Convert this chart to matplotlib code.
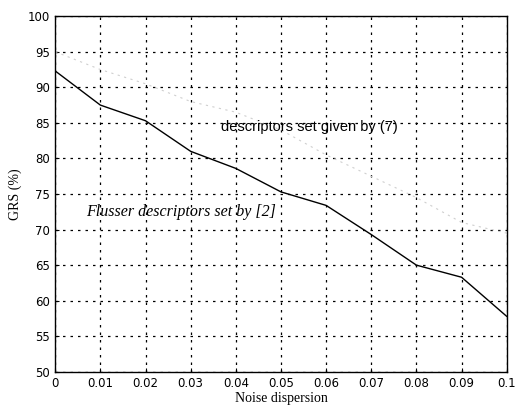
import matplotlib
matplotlib.use("Agg")
import matplotlib.pyplot as plt
import numpy as np

noise = [0, 0.01, 0.02, 0.03, 0.04, 0.05, 0.06, 0.07, 0.08, 0.09, 0.1]
flusser = [92.3, 87.5, 85.3, 81.0, 78.6, 75.3, 73.4, 69.3, 65.0, 63.3, 57.8]
proposed = [95.0, 92.5, 90.5, 88.0, 86.5, 84.0, 80.5, 77.5, 74.5, 71.0, 69.5]
xticks = [0, 0.01, 0.02, 0.03, 0.04, 0.05, 0.06, 0.07, 0.08, 0.09, 0.1]
xticklabels = ["0", "0.01", "0.02", "0.03", "0.04", "0.05", "0.06", "0.07", "0.08", "0.09", "0.1"]
yticks = [50, 55, 60, 65, 70, 75, 80, 85, 90, 95, 100]

fig = plt.figure(figsize=(5.16, 4.15), dpi=100)
ax = fig.add_axes([0.107, 0.104, 0.875, 0.857])

ax.plot(noise, proposed, color="#cfcfcf", lw=0.8, ls=(0, (2, 4)))
ax.plot(noise, flusser, color="black", lw=1.0)

ax.set_xlim(0, 0.1)
ax.set_ylim(50, 100)
ax.set_xticks(xticks)
ax.set_xticklabels(xticklabels)
ax.set_yticks(yticks)
ax.grid(True, color="black", ls=(0, (2, 4)), lw=0.9)
ax.tick_params(direction="in", length=3, labelsize=8.5, pad=4)
for lab in ax.get_xticklabels() + ax.get_yticklabels():
    lab.set_family("DejaVu Sans")
for sp in ax.spines.values():
    sp.set_linewidth(1.0)

ax.set_xlabel("Noise dispersion", family="Liberation Serif", fontsize=10, labelpad=1)
ax.set_ylabel("GRS (%)", family="Liberation Serif", fontsize=10, labelpad=4)

ax.text(0.0367, 84.4, "descriptors set given by (7)", family="Liberation Sans",
        fontsize=10.5, va="center", ha="left")
ax.text(0.0068, 72.5, "Flusser descriptors set by [2]", family="Liberation Serif",
        fontsize=11.5, va="center", ha="left", style="italic")

fig.savefig("out.png", dpi=100)
